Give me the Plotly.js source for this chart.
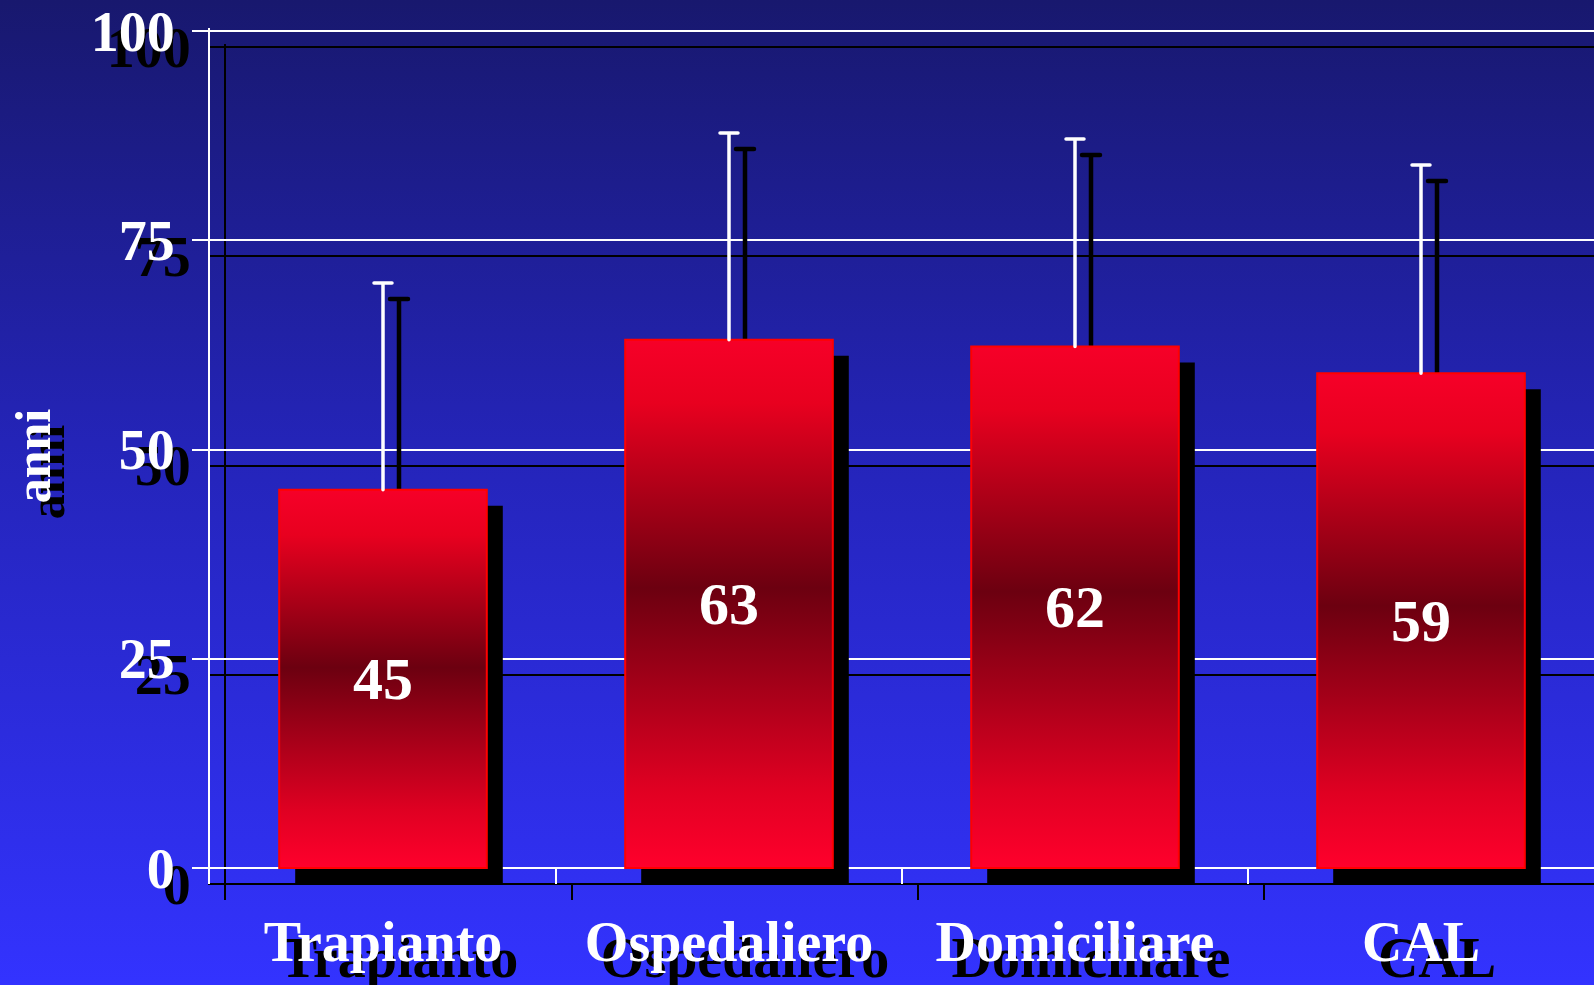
<!DOCTYPE html>
<html>
<head>
<meta charset="utf-8">
<script src="https://cdn.plot.ly/plotly-3.0.1.min.js"></script>
<style>
  html, body { margin: 0; padding: 0; }
  body { width: 1594px; height: 985px; overflow: hidden;
         background: linear-gradient(to bottom, #18186e 0%, #2424b8 45%, #3333ff 100%); }
  #chart { width: 1594px; height: 985px; }
</style>
</head>
<body>
<div id="chart"></div>
<script>
// ---- data ----
const categories = ["Trapianto", "Ospedaliero", "Domiciliare", "CAL"];
const meanAge = [45.2, 63.1, 62.3, 59.1];
const sdAge = [24.7, 24.7, 24.8, 24.9];
const yTicks = [0, 25, 50, 75, 100];
const yTitle = "anni";

// ---- geometry / style ----
const W = 1594, H = 985;
const mL = 210, mR = 0, mT = 28, mB = 85;
const plotW = W - mL - mR, plotH = H - mT - mB;
const shadowPx = 16;      // shadow offset in px
const padPx = 3;          // room above the top gridline so it is drawn
const yMax = 100;
const domainPx = plotH - shadowPx;
const ppu = (domainPx - shadowPx - padPx) / yMax;   // px per unit
const yMin = -shadowPx / ppu;
const yTop = yMax + padPx / ppu;
const dyUnits = shadowPx / ppu;
const nCat = categories.length;
const pxPerCat = plotW / nCat;
const dxUnits = shadowPx / pxPerCat;
const barW = 0.6;

const fontFam = "Liberation Serif, Times New Roman, serif";
const zeros = categories.map(() => 0);

const shadowCats = {
  type: "scatter", x: categories, y: meanAge, xaxis: "x", yaxis: "y",
  mode: "markers", marker: {opacity: 0}, hoverinfo: "skip", showlegend: false
};

const shadowBars = {
  type: "bar", x: categories, y: meanAge, base: categories.map(() => -dyUnits),
  xaxis: "x2", yaxis: "y2", width: barW, offset: -barW / 2 + dxUnits,
  marker: {color: "#000000", line: {width: 0}},
  textposition: "none",
  error_y: {type: "data", array: sdAge, arrayminus: zeros, symmetric: false,
            color: "#000000", thickness: 4.5, width: 9},
  hoverinfo: "skip", showlegend: false
};

const mainBars = {
  type: "bar", x: categories, y: meanAge,
  xaxis: "x2", yaxis: "y2", width: barW, offset: -barW / 2,
  marker: {color: "#c00020", line: {color: "#ff0000", width: 2}},
  texttemplate: "%{y:.0f}", textposition: "inside", insidetextanchor: "middle",
  textangle: 0, constraintext: "none",
  textfont: {family: fontFam, size: 60, color: "#ffffff", weight: "bold"},
  error_y: {type: "data", array: sdAge, arrayminus: zeros, symmetric: false,
            color: "#ffffff", thickness: 3.5, width: 9},
  hoverinfo: "skip", showlegend: false
};

function tickFont(c, s) { return {family: fontFam, size: s, color: c, weight: "bold"}; }

const layout = {
  width: W, height: H,
  margin: {l: mL, r: mR, t: mT, b: mB},
  paper_bgcolor: "rgba(0,0,0,0)", plot_bgcolor: "rgba(0,0,0,0)",
  barmode: "overlay", hovermode: false, showlegend: false,
  // shadow axes (drawn first, underneath)
  xaxis: {
    type: "category", domain: [shadowPx / plotW, 1], range: [-0.5, nCat - 0.5 - dxUnits],
    anchor: "y", tickson: "boundaries", ticks: "inside", ticklen: 16, tickwidth: 2,
    tickcolor: "#000000", showgrid: false, showline: false, zeroline: false,
    tickfont: tickFont("#000000", 56), ticklabelstandoff: 20
  },
  yaxis: {
    domain: [0, 1 - shadowPx / plotH], range: [yMin, yTop], anchor: "x",
    tickmode: "array", tickvals: yTicks, ticks: "outside", ticklen: 16, tickwidth: 2,
    tickcolor: "#000000", showgrid: true, gridcolor: "#000000", gridwidth: 2,
    showline: true, linecolor: "#000000", linewidth: 2, zeroline: false,
    tickfont: tickFont("#000000", 56), ticklabelstandoff: 6,
    title: {text: yTitle, font: tickFont("#000000", 50), standoff: 26}
  },
  // main axes
  xaxis2: {
    type: "category", domain: [0, 1], range: [-0.5, nCat - 0.5],
    anchor: "y2", tickson: "boundaries", ticks: "inside", ticklen: 16, tickwidth: 2,
    tickcolor: "#ffffff", showgrid: false, showline: false, zeroline: false,
    tickfont: tickFont("#ffffff", 56), ticklabelstandoff: 20
  },
  yaxis2: {
    domain: [shadowPx / plotH, 1], range: [yMin, yTop], anchor: "x2",
    tickmode: "array", tickvals: yTicks, ticks: "outside", ticklen: 16, tickwidth: 2,
    tickcolor: "#ffffff", showgrid: true, gridcolor: "#ffffff", gridwidth: 2,
    showline: true, linecolor: "#ffffff", linewidth: 2, zeroline: false,
    tickfont: tickFont("#ffffff", 56), ticklabelstandoff: 6,
    title: {text: yTitle, font: tickFont("#ffffff", 50), standoff: 24}
  }
};

Plotly.newPlot("chart", [shadowCats, shadowBars, mainBars], layout, {staticPlot: true})
  .then(function (gd) {
    const svgNS = "http://www.w3.org/2000/svg";
    const defs = gd.querySelector("svg.main-svg defs");
    const grad = document.createElementNS(svgNS, "linearGradient");
    grad.setAttribute("id", "redBarGrad");
    grad.setAttribute("x1", "0"); grad.setAttribute("y1", "0");
    grad.setAttribute("x2", "0"); grad.setAttribute("y2", "1");
    [[0, "#f60028"], [0.12, "#e8001f"], [0.47, "#6c0010"], [0.85, "#e00022"], [1, "#ff002c"]]
      .forEach(function (s) {
        const st = document.createElementNS(svgNS, "stop");
        st.setAttribute("offset", s[0]);
        st.setAttribute("stop-color", s[1]);
        grad.appendChild(st);
      });
    defs.appendChild(grad);
    const traces = gd.querySelectorAll("g.trace.bars");
    const main = traces[traces.length - 1];
    main.querySelectorAll("g.point path").forEach(function (p) {
      p.style.fill = "url(#redBarGrad)";
    });
    // error bars: keep only the upper cap (no cap at the bar top)
    gd.querySelectorAll("g.errorbar path.yerror").forEach(function (p) {
      const d = p.getAttribute("d") || "";
      p.setAttribute("d", d.replace(/m-?[\d.]+,0h[\d.]+\s*$/, ""));
      p.style.strokeLinecap = "round";
    });
  });
</script>
</body>
</html>
